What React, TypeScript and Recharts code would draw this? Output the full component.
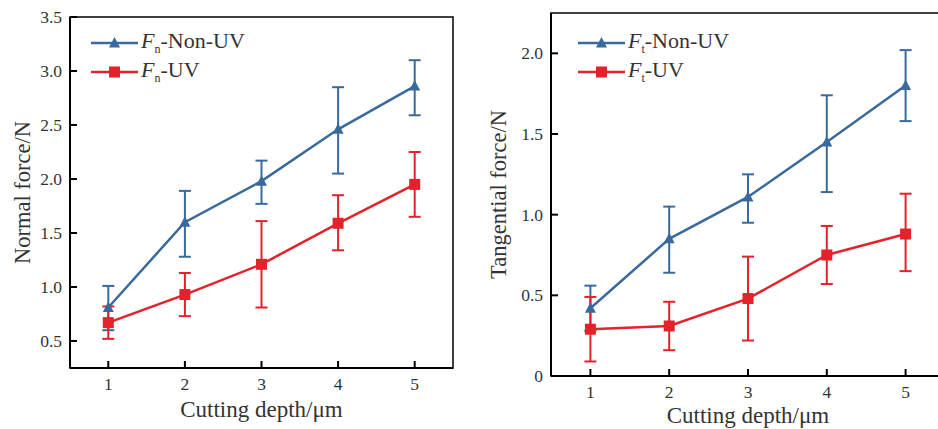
import { LineChart, Line, XAxis, YAxis, ErrorBar, ReferenceArea, Label } from 'recharts';

const depths = [1, 2, 3, 4, 5];

// Normal force (N): mean, bottom and top of each error bar
const fnNonUv = [0.81, 1.6, 1.98, 2.46, 2.86];
const fnNonUvLow = [0.6, 1.28, 1.77, 2.05, 2.59];
const fnNonUvHigh = [1.01, 1.89, 2.17, 2.85, 3.1];
const fnUv = [0.67, 0.93, 1.21, 1.59, 1.95];
const fnUvLow = [0.52, 0.73, 0.81, 1.34, 1.65];
const fnUvHigh = [0.82, 1.13, 1.61, 1.85, 2.25];

// Tangential force (N)
const ftNonUv = [0.42, 0.85, 1.11, 1.45, 1.8];
const ftNonUvLow = [0.28, 0.64, 0.95, 1.14, 1.58];
const ftNonUvHigh = [0.56, 1.05, 1.25, 1.74, 2.02];
const ftUv = [0.29, 0.31, 0.48, 0.75, 0.88];
const ftUvLow = [0.09, 0.16, 0.22, 0.57, 0.65];
const ftUvHigh = [0.49, 0.46, 0.74, 0.93, 1.13];

const normalTicks = [0.5, 1.0, 1.5, 2.0, 2.5, 3.0, 3.5];
const tangentialTicks = [0, 0.5, 1.0, 1.5, 2.0];

const BLUE = '#3a6a9c';
const RED = '#e3222b';
const FONT = '"Liberation Serif", "Times New Roman", serif';
const TEXT = '#333';

function buildRows(a: number[], aLo: number[], aHi: number[], b: number[], bLo: number[], bHi: number[]) {
  return depths.map((d, i) => ({
    depth: d,
    nonUv: a[i],
    nonUvErr: [a[i] - aLo[i], aHi[i] - a[i]],
    uv: b[i],
    uvErr: [b[i] - bLo[i], bHi[i] - b[i]],
  }));
}

const normalData = buildRows(fnNonUv, fnNonUvLow, fnNonUvHigh, fnUv, fnUvLow, fnUvHigh);
const tangentialData = buildRows(ftNonUv, ftNonUvLow, ftNonUvHigh, ftUv, ftUvLow, ftUvHigh);

function Triangle({ cx, cy }: any) {
  if (cx == null || cy == null) return null;
  return <polygon points={`${cx},${cy - 6} ${cx - 5.5},${cy + 4.5} ${cx + 5.5},${cy + 4.5}`} fill={BLUE} />;
}

function Square({ cx, cy }: any) {
  if (cx == null || cy == null) return null;
  return <rect x={cx - 5.5} y={cy - 5.5} width={11} height={11} fill={RED} />;
}

// inward tick marks, labels outside the axis
function YTick({ x, y, payload, gap, fmt }: any) {
  const ax = x + gap;
  return (
    <g>
      <line x1={ax} x2={ax + 7} y1={y} y2={y} stroke="#000" strokeWidth={2} />
      <text x={x} y={y} dy="0.35em" textAnchor="end" fontSize={17.5} fontFamily={FONT} fill={TEXT}>
        {fmt(payload.value)}
      </text>
    </g>
  );
}

function XTick({ x, y, payload, gap }: any) {
  const ay = y - gap;
  return (
    <g>
      <line x1={x} x2={x} y1={ay} y2={ay - 7} stroke="#000" strokeWidth={2} />
      <text x={x} y={y} dy="0.68em" textAnchor="middle" fontSize={17.5} fontFamily={FONT} fill={TEXT}>
        {payload.value}
      </text>
    </g>
  );
}

function LegendRow({ top, left, marker, color, sub, name }: any) {
  return (
    <div style={{ position: 'absolute', top, left, height: 28, display: 'flex', alignItems: 'center', fontFamily: FONT, fontSize: 22, color: TEXT, whiteSpace: 'nowrap' }}>
      <svg width={47} height={14} style={{ marginRight: 3 }}>
        <line x1={0} x2={47} y1={7} y2={7} stroke={color} strokeWidth={2.5} />
        {marker === 'tri'
          ? <polygon points="23.5,1 18,11.5 29,11.5" fill={color} />
          : <rect x={18} y={1.5} width={11} height={11} fill={color} />}
      </svg>
      <span>
        <i>F</i>
        <sub style={{ fontSize: 12 }}>{sub}</sub>
        {name}
      </span>
    </div>
  );
}

interface PanelProps {
  data: any[];
  left: number;
  width: number;
  margin: { top: number; right: number; bottom: number; left: number };
  yWidth: number;
  xHeight: number;
  yDomain: [number, number];
  yTicks: number[];
  yFmt: (v: number) => string;
  yGap: number;
  xGap: number;
  yTitle: string;
  yTitleOffset: number;
  xTitleOffset: number;
}

function Panel(p: PanelProps) {
  return (
    <div style={{ position: 'absolute', left: p.left, top: 0 }}>
      <LineChart width={p.width} height={429} data={p.data} margin={p.margin}>
        <XAxis
          dataKey="depth"
          type="number"
          domain={[0.5, 5.5]}
          ticks={depths}
          height={p.xHeight}
          tickSize={0}
          tickMargin={p.xGap}
          tickLine={false}
          axisLine={{ stroke: '#000', strokeWidth: 2 }}
          tick={<XTick gap={p.xGap} />}
        >
          <Label value="Cutting depth/μm" position="insideBottom" offset={p.xTitleOffset} style={{ fontSize: 23, fontFamily: FONT, fill: TEXT }} />
        </XAxis>
        <YAxis
          type="number"
          domain={p.yDomain}
          ticks={p.yTicks}
          width={p.yWidth}
          tickSize={0}
          tickMargin={p.yGap}
          tickLine={false}
          axisLine={{ stroke: '#000', strokeWidth: 2 }}
          tick={<YTick gap={p.yGap} fmt={p.yFmt} />}
        >
          <Label value={p.yTitle} angle={-90} position="insideLeft" offset={p.yTitleOffset} style={{ fontSize: 22.5, fontFamily: FONT, fill: TEXT, textAnchor: 'middle' }} />
        </YAxis>
        <ReferenceArea x1={0.5} x2={5.5} y1={p.yDomain[0]} y2={p.yDomain[1]} fill="none" stroke="#000" strokeWidth={1.5} />
        <Line dataKey="nonUv" stroke={BLUE} strokeWidth={2.5} dot={<Triangle />} activeDot={false} isAnimationActive={false}>
          <ErrorBar dataKey="nonUvErr" direction="y" width={6} stroke={BLUE} strokeWidth={2} isAnimationActive={false} />
        </Line>
        <Line dataKey="uv" stroke={RED} strokeWidth={2.5} dot={<Square />} activeDot={false} isAnimationActive={false}>
          <ErrorBar dataKey="uvErr" direction="y" width={6} stroke={RED} strokeWidth={2} isAnimationActive={false} />
        </Line>
      </LineChart>
    </div>
  );
}

export default function App() {
  return (
    <div style={{ position: 'absolute', left: 0, top: 0, width: 938, height: 429, overflow: 'hidden', background: '#fff' }}>
      <Panel
        data={normalData}
        left={0}
        width={470}
        margin={{ top: 17, right: 17, bottom: 6, left: 8 }}
        yWidth={62}
        xHeight={55}
        yDomain={[0.25, 3.5]}
        yTicks={normalTicks}
        yFmt={(v) => v.toFixed(1)}
        yGap={8}
        xGap={10}
        yTitle="Normal force/N"
        yTitleOffset={14}
        xTitleOffset={6}
      />
      <Panel
        data={tangentialData}
        left={470}
        width={490}
        margin={{ top: 13, right: 15, bottom: 6, left: 8 }}
        yWidth={73}
        xHeight={47}
        yDomain={[0, 2.25]}
        yTicks={tangentialTicks}
        yFmt={(v) => (v === 0 ? '0' : v.toFixed(1))}
        yGap={8}
        xGap={10}
        yTitle="Tangential force/N"
        yTitleOffset={20}
        xTitleOffset={0}
      />
      <LegendRow top={29} left={91} marker="tri" color={BLUE} sub="n" name="-Non-UV" />
      <LegendRow top={58} left={91} marker="sq" color={RED} sub="n" name="-UV" />
      <LegendRow top={29} left={578} marker="tri" color={BLUE} sub="t" name="-Non-UV" />
      <LegendRow top={58} left={578} marker="sq" color={RED} sub="t" name="-UV" />
    </div>
  );
}
